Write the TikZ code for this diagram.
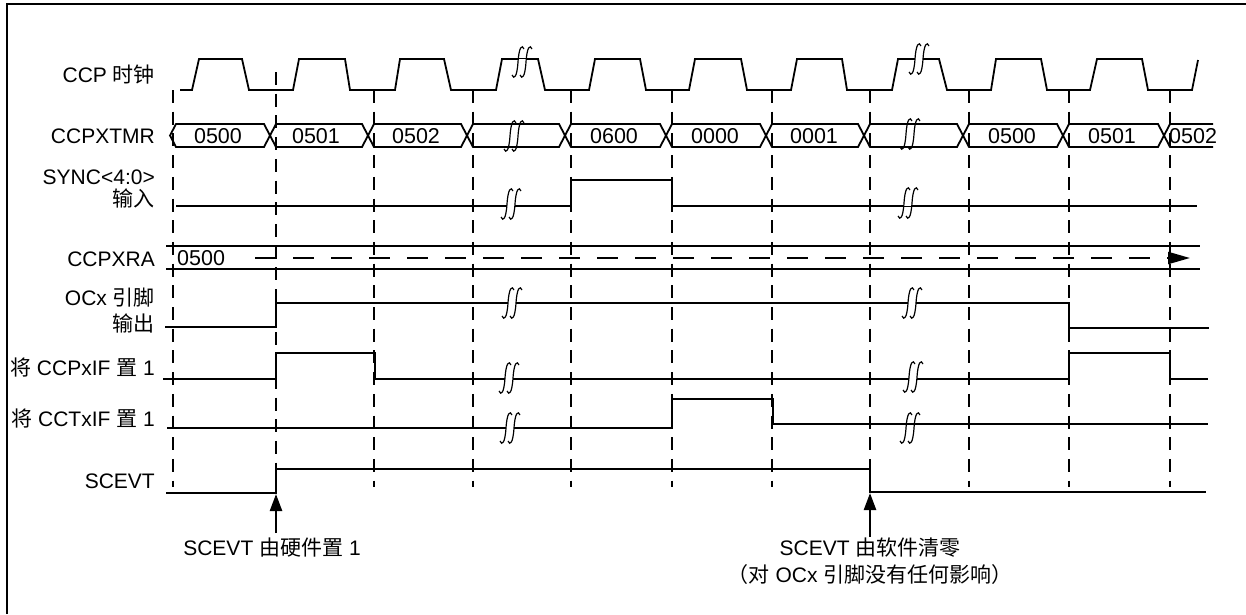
\documentclass[tikz,border=0pt]{standalone}
\usepackage{fontspec}
\setmainfont{Liberation Sans}
\newfontfamily\cjk[Scale=1.0]{Noto Sans CJK SC}
\newcommand\zh[1]{{\cjk #1}}
\usetikzlibrary{arrows.meta}
\tikzset{
  sig/.style={line width=2.4pt},
  clk/.style={line width=1.8pt, line join=miter},
  bus/.style={line width=1.8pt},
  guide/.style={line width=2.4pt, dash pattern=on 13pt off 8.7pt},
  lbl/.style={anchor=east, inner sep=0pt, font=\fontsize{21}{25}\selectfont},
  val/.style={inner sep=0pt, font=\fontsize{21.5}{25}\selectfont},
  note/.style={inner sep=0pt, font=\fontsize{21}{25}\selectfont, align=center},
  evarrow/.style={line width=2.4pt, -{Triangle[length=17pt,width=12pt]}},
  brk/.pic={
    \fill[white] (-4,-3) rectangle (4,3);
    \foreach \dx in {-4,4} {
      \draw[line width=1.2pt, shift={(\dx,0)}] (-6,13) .. controls (-4,18) and (-1,15) .. (0,0) .. controls (1,-15) and (4,-18) .. (6,-13);
    }
  }
}
\begin{document}
\begin{tikzpicture}[x=1pt,y=-1pt]
\useasboundingbox (0,0) rectangle (1246,614);
% frame
\draw[line width=2.5pt] (7,614) -- (7,4) -- (1246,4);
% guide lines
\foreach \x in {173,374,473,571,672,772,969,1069,1170}
  \draw[guide] (\x,90) -- (\x,487);
\draw[guide] (276,72) -- (276,469);
\draw[guide] (870,90) -- (870,469);
% clock
\draw[clk] (180,90) -- (192,90) -- (199,59) -- (242,59) -- (249,90) -- (293,90) -- (299,59) -- (345,59) -- (350,90) -- (395,90) -- (400,59) -- (444,59) -- (451,90) -- (496,90) -- (502,59) -- (538,59) -- (545,90) -- (589,90) -- (595,59) -- (640,59) -- (646,90) -- (689,90) -- (695,59) -- (741,59) -- (747,90) -- (791,90) -- (797,59) -- (842,59) -- (847,90) -- (892,90) -- (898,59) -- (939,59) -- (947,90) -- (991,90) -- (996,59) -- (1041,59) -- (1047,90) -- (1090,90) -- (1097,59) -- (1142,59) -- (1148,90) -- (1192,90) -- (1198,60);
% bus CCPXTMR
\foreach \a/\b in {170/270,270/368,368/467,467/565,565/666,666/766,766/864,864/963,963/1063,1063/1164}
  \draw[bus] (\a,135.5) -- (\a+6,124) -- (\b-6,124) -- (\b,135.5) -- (\b-6,147) -- (\a+6,147) -- cycle;
\draw[bus] (1213,124) -- (1170,124) -- (1164,135.5) -- (1170,147) -- (1213,147);
\node[val] (v1) at (218,136) {0500};
\node[val] (v2) at (316,136) {0501};
\node[val] (v3) at (416,136) {0502};
\node[val] (v4) at (614,136) {0600};
\node[val] (v5) at (715,136) {0000};
\node[val] (v6) at (814,136) {0001};
\node[val] (v7) at (1012,136) {0500};
\node[val] (v8) at (1112,136) {0501};
\node[val, anchor=west] (v9) at (1169,136) {0502};
% SYNC
\draw[sig] (176,206) -- (571,206) -- (571,180) -- (672,180) -- (672,206) -- (1197,206);
% CCPXRA
\draw[bus] (166,246) -- (1200,246);
\draw[bus] (166,269) -- (1200,269);
\node[val, anchor=west] (ra) at (177,258) {0500};
\draw[line width=2.2pt, dash pattern=on 21pt off 17pt, -{Triangle[length=22pt,width=12pt]}] (255,258) -- (1190,258);
% OCx
\draw[sig] (165,327) -- (276,327) -- (276,303) -- (1069,303) -- (1069,328) -- (1209,328);
% CCPxIF
\draw[sig] (163,379) -- (276,379) -- (276,353) -- (375,353) -- (375,379) -- (1069,379) -- (1069,353) -- (1170,353) -- (1170,379) -- (1208,379);
% CCTxIF
\draw[sig] (167,428) -- (672,428) -- (672,399) -- (773,399) -- (773,424) -- (1208,424);
% SCEVT
\draw[sig] (166,493) -- (276,493) -- (276,469) -- (870,469) -- (870,492) -- (1206,492);
% breaks
\foreach \p in {(522,62),(514,136),(919,59),(910,134),(511,204),(908,203),(512,303),(912,303),(509,378),(913,377),(510,428),(910,428)}
  \pic at \p {brk};
% labels
\node[lbl] (lclk) at (155,75) {CCP \zh{时钟}};
\node[lbl] (ltmr) at (155,136) {CCPXTMR};
\node[lbl] (lsync) at (155,177) {SYNC<4:0>};
\node[lbl] (lsync2) at (155,198) {\zh{输入}};
\node[lbl] (lra) at (155,259) {CCPXRA};
\node[lbl] (loc) at (155,298) {OCx \zh{引脚}};
\node[lbl] (loc2) at (155,323) {\zh{输出}};
\node[lbl] (lif) at (155,367) {\zh{将} CCPxIF \zh{置} 1};
\node[lbl] (ltif) at (155,418) {\zh{将} CCTxIF \zh{置} 1};
\node[lbl] (lsc) at (155,481) {SCEVT};
% notes and arrows
\node[note] (n1) at (272,548) {SCEVT \zh{由硬件置} 1};
\node[note] (n2) at (870,548) {SCEVT \zh{由软件清零}};
\node[note] (n3) at (870,575) {\zh{（对} OCx \zh{引脚没有任何影响）}};
\coordinate (s1) at (276,533);
\coordinate (e1) at (276,494);
\coordinate (s2) at (870,537);
\coordinate (e2) at (870,493);
\draw[evarrow] (s1) -- (e1);
\draw[evarrow] (s2) -- (e2);
\end{tikzpicture}
\end{document}
